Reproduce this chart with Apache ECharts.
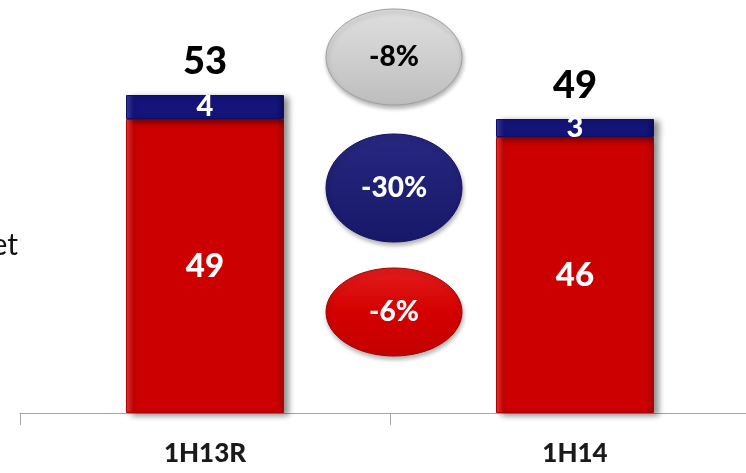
<!DOCTYPE html>
<html>
<head>
<meta charset="utf-8">
<script src="https://cdn.jsdelivr.net/npm/echarts@6/dist/echarts.min.js"></script>
<style>
  html, body { margin: 0; padding: 0; background: #ffffff; overflow: hidden; }
  /* the plot runs on past the right edge of the window */
  #chart { width: 760px; height: 473px; }
</style>
</head>
<body>
<div id="chart"></div>
<script>
// Half-year periods and their two components
const categories = ['1H13R', '1H14'];
const redValues = [49, 46];
const blueValues = [4, 3];
const totals = redValues.map((v, i) => v + blueValues[i]);

// Period-on-period changes: total, blue component, red component
const changeLabels = ['-8%', '-30%', '-6%'];

const FONT = 'Lato, "Open Sans", sans-serif';

const chart = echarts.init(document.getElementById('chart'));

function barGradient(light, mid, dark) {
  return new echarts.graphic.LinearGradient(0, 0, 1, 0, [
    { offset: 0, color: light },
    { offset: 0.05, color: mid },
    { offset: 0.95, color: mid },
    { offset: 1, color: dark }
  ]);
}

const shadow = {
  shadowColor: 'rgba(0,0,0,0.45)',
  shadowBlur: 6,
  shadowOffsetX: 5,
  shadowOffsetY: 2
};

chart.setOption({
  animation: false,
  grid: { left: 20, right: 0, top: 53, bottom: 60 },
  xAxis: {
    type: 'category',
    data: categories,
    axisLine: { lineStyle: { color: '#a6a6a6', width: 1 } },
    axisTick: { show: true, length: 12, lineStyle: { color: '#a6a6a6' } },
    axisLabel: {
      margin: 28,
      color: '#1a1a1a',
      fontFamily: FONT,
      fontWeight: 900,
      fontSize: 26
    }
  },
  yAxis: {
    type: 'value',
    min: 0,
    max: 60,
    show: false,
    splitLine: { show: false }
  },
  series: [
    {
      name: 'red',
      type: 'bar',
      stack: 'total',
      barWidth: '42.7%',
      data: redValues,
      itemStyle: Object.assign({
        color: barGradient('#e03a3a', '#cc0000', '#a80000'),
        borderColor: '#b40000',
        borderWidth: 1
      }, shadow),
      label: {
        show: true,
        position: 'inside',
        color: '#ffffff',
        fontFamily: FONT,
        fontWeight: 900,
        fontSize: 33
      }
    },
    {
      name: 'blue',
      type: 'bar',
      stack: 'total',
      data: blueValues,
      itemStyle: Object.assign({
        color: barGradient('#3a3aa0', '#14147a', '#0c0c5c'),
        borderColor: '#0e0e66',
        borderWidth: 1
      }, shadow),
      label: {
        show: true,
        position: 'inside',
        color: '#ffffff',
        fontFamily: FONT,
        fontWeight: 900,
        fontSize: 29
      }
    },
    {
      name: 'total',
      type: 'bar',
      stack: 'total',
      data: totals.map(() => 0),
      itemStyle: { color: 'transparent' },
      label: {
        show: true,
        position: 'top',
        distance: 14,
        color: '#000000',
        fontFamily: FONT,
        fontWeight: 900,
        fontSize: 38,
        formatter: p => String(totals[p.dataIndex])
      }
    }
  ]
});

// Change bubbles placed between the two bars
const bubbleStyles = [
  { cy: 57, ry: 48, text: '#000000', stroke: '#a0a0a0',
    fill: ['#dedede', '#cfcfcf', '#bdbdbd'] },
  { cy: 188, ry: 54, text: '#ffffff', stroke: '#12125a',
    fill: ['#272782', '#1f1f74', '#18186a'] },
  { cy: 312, ry: 44, text: '#ffffff', stroke: '#a00000',
    fill: ['#e41c1c', '#d40000', '#c40000'] }
];

const x0 = chart.convertToPixel({ xAxisIndex: 0 }, categories[0]);
const x1 = chart.convertToPixel({ xAxisIndex: 0 }, categories[1]);
const cx = (x0 + x1) / 2 + 4;

const graphics = bubbleStyles.map((b, i) => ({
  type: 'group',
  children: [
    {
      type: 'ellipse',
      shape: { cx: cx, cy: b.cy, rx: 68, ry: b.ry },
      style: {
        fill: new echarts.graphic.LinearGradient(0, 0, 0, 1, [
          { offset: 0, color: b.fill[0] },
          { offset: 0.5, color: b.fill[1] },
          { offset: 1, color: b.fill[2] }
        ]),
        stroke: b.stroke,
        lineWidth: 1,
        shadowColor: 'rgba(0,0,0,0.3)',
        shadowBlur: 4,
        shadowOffsetX: 1,
        shadowOffsetY: 3
      }
    },
    {
      type: 'text',
      x: cx,
      y: b.cy,
      style: {
        text: changeLabels[i],
        fill: b.text,
        font: '900 28px ' + FONT,
        textAlign: 'center',
        textVerticalAlign: 'middle'
      }
    }
  ]
}));

// Axis caption partly running off the left edge
graphics.push({
  type: 'text',
  x: 18,
  y: 245,
  style: {
    text: 'Net',
    fill: '#111111',
    font: '30px ' + FONT,
    textAlign: 'right',
    textVerticalAlign: 'middle'
  }
});

chart.setOption({ graphic: graphics });
</script>
</body>
</html>
